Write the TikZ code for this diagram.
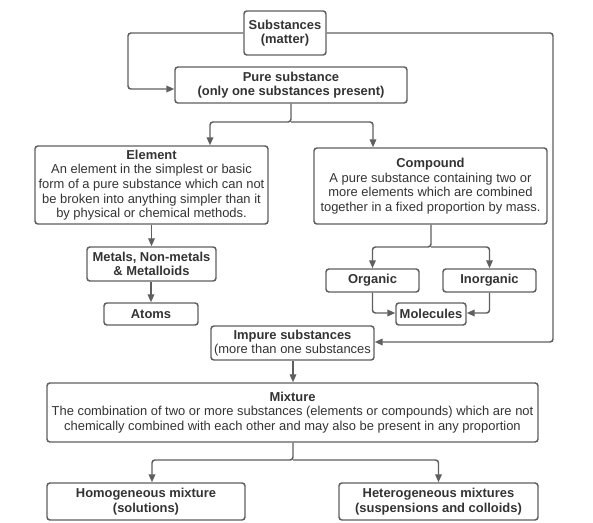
\documentclass[tikz,border=0pt]{standalone}
\usepackage{fontspec}
\setmainfont{Liberation Sans}
\usetikzlibrary{arrows.meta}
\definecolor{edge}{HTML}{5F5F5F}
\definecolor{txt}{HTML}{333333}
\begin{document}
\begin{tikzpicture}[x=0.75pt,y=-0.75pt,
  box/.style={draw=edge,line width=1.1pt,rounded corners=2.2pt,inner sep=0pt,align=center,
    text=txt,font=\fontsize{9.7}{11}\selectfont},
  arr/.style={draw=edge,line width=1.1pt,rounded corners=2.2pt,-{Triangle[length=6pt,width=5pt]}}]
\useasboundingbox (0,0) rectangle (593,523);
\def\u{0.75pt}
\node[box,minimum width=82*\u,minimum height=44*\u] (subs) at (285,33) {\textbf{Substances}\\\textbf{(matter)}};
\node[box,minimum width=232*\u,minimum height=36*\u] (pure) at (291,85) {\textbf{Pure substance}\\\textbf{(only one substances present)}};
\node[box,minimum width=233*\u,minimum height=78*\u] (elem) at (151.5,185) {\textbf{Element}\\An element in the simplest or basic\\form of a pure substance which can not\\be broken into anything simpler than it\\by physical or chemical methods.};
\node[box,minimum width=233*\u,minimum height=76*\u] (comp) at (430.5,186) {\textbf{Compound}\\A pure substance containing two or\\more elements which are combined\\together in a fixed proportion by mass.};
\node[box,minimum width=129*\u,minimum height=34*\u] (metals) at (151.5,264) {\textbf{Metals, Non-metals}\\\textbf{\& Metalloids}};
\node[box,minimum width=94*\u,minimum height=22*\u] (atoms) at (151,314) {\textbf{Atoms}};
\node[box,minimum width=93*\u,minimum height=23*\u] (org) at (372.5,280.5) {\textbf{Organic}};
\node[box,minimum width=93*\u,minimum height=23*\u] (inorg) at (489.5,280.5) {\textbf{Inorganic}};
\node[box,minimum width=70*\u,minimum height=22*\u] (mol) at (431,314) {\textbf{Molecules}};
\node[box,minimum width=163*\u,minimum height=34*\u] (impure) at (292.5,343) {\textbf{Impure substances}\\(more than one substances};
\node[box,minimum width=491*\u,minimum height=59*\u] (mix) at (292.5,412.5) {\textbf{Mixture}\\The combination of two or more substances (elements or compounds) which are not\\chemically combined with each other and may also be present in any proportion};
\node[box,minimum width=198*\u,minimum height=37*\u] (homo) at (146,501.5) {\textbf{Homogeneous mixture}\\\textbf{(solutions)}};
\node[box,minimum width=199*\u,minimum height=37*\u] (hetero) at (438.5,501.5) {\textbf{Heterogeneous mixtures}\\\textbf{(suspensions and colloids)}};
% helper coordinates
\coordinate (lbend) at (128,89);
\coordinate (rbend) at (553,342);
\coordinate (ps) at (291,122);
\coordinate (ex) at (210,0);
\coordinate (cx) at (373,0);
\coordinate (cs) at (431,247);
\coordinate (ms) at (293,460);
\coordinate (oy) at (0,313);
\coordinate (hx) at (152,0);
% connectors
\draw[arr] (subs.west) -| (lbend) -- (lbend -| pure.west);
\draw[arr] (subs.east) -| (rbend) -- (rbend -| impure.east);
\draw[arr] (pure.south -| ps) -- (ps) -| (elem.north -| ex);
\draw[arr] (ps) -| (comp.north -| cx);
\draw[arr] (elem.south -| metals.north) -- (metals.north);
\draw[arr] (metals.south -| atoms.north) -- (atoms.north);
\draw[arr] (comp.south -| cs) -- (cs) -| (org.north);
\draw[arr] (cs) -| (inorg.north);
\draw[arr] (org.south) |- (oy -| mol.west);
\draw[arr] (inorg.south) |- (oy -| mol.east);
\draw[arr] (impure.south -| ms) -- (mix.north -| ms);
\draw[arr] (mix.south -| ms) -- (ms) -| (homo.north -| hx);
\draw[arr] (ms) -| (hetero.north);
\end{tikzpicture}
\end{document}
